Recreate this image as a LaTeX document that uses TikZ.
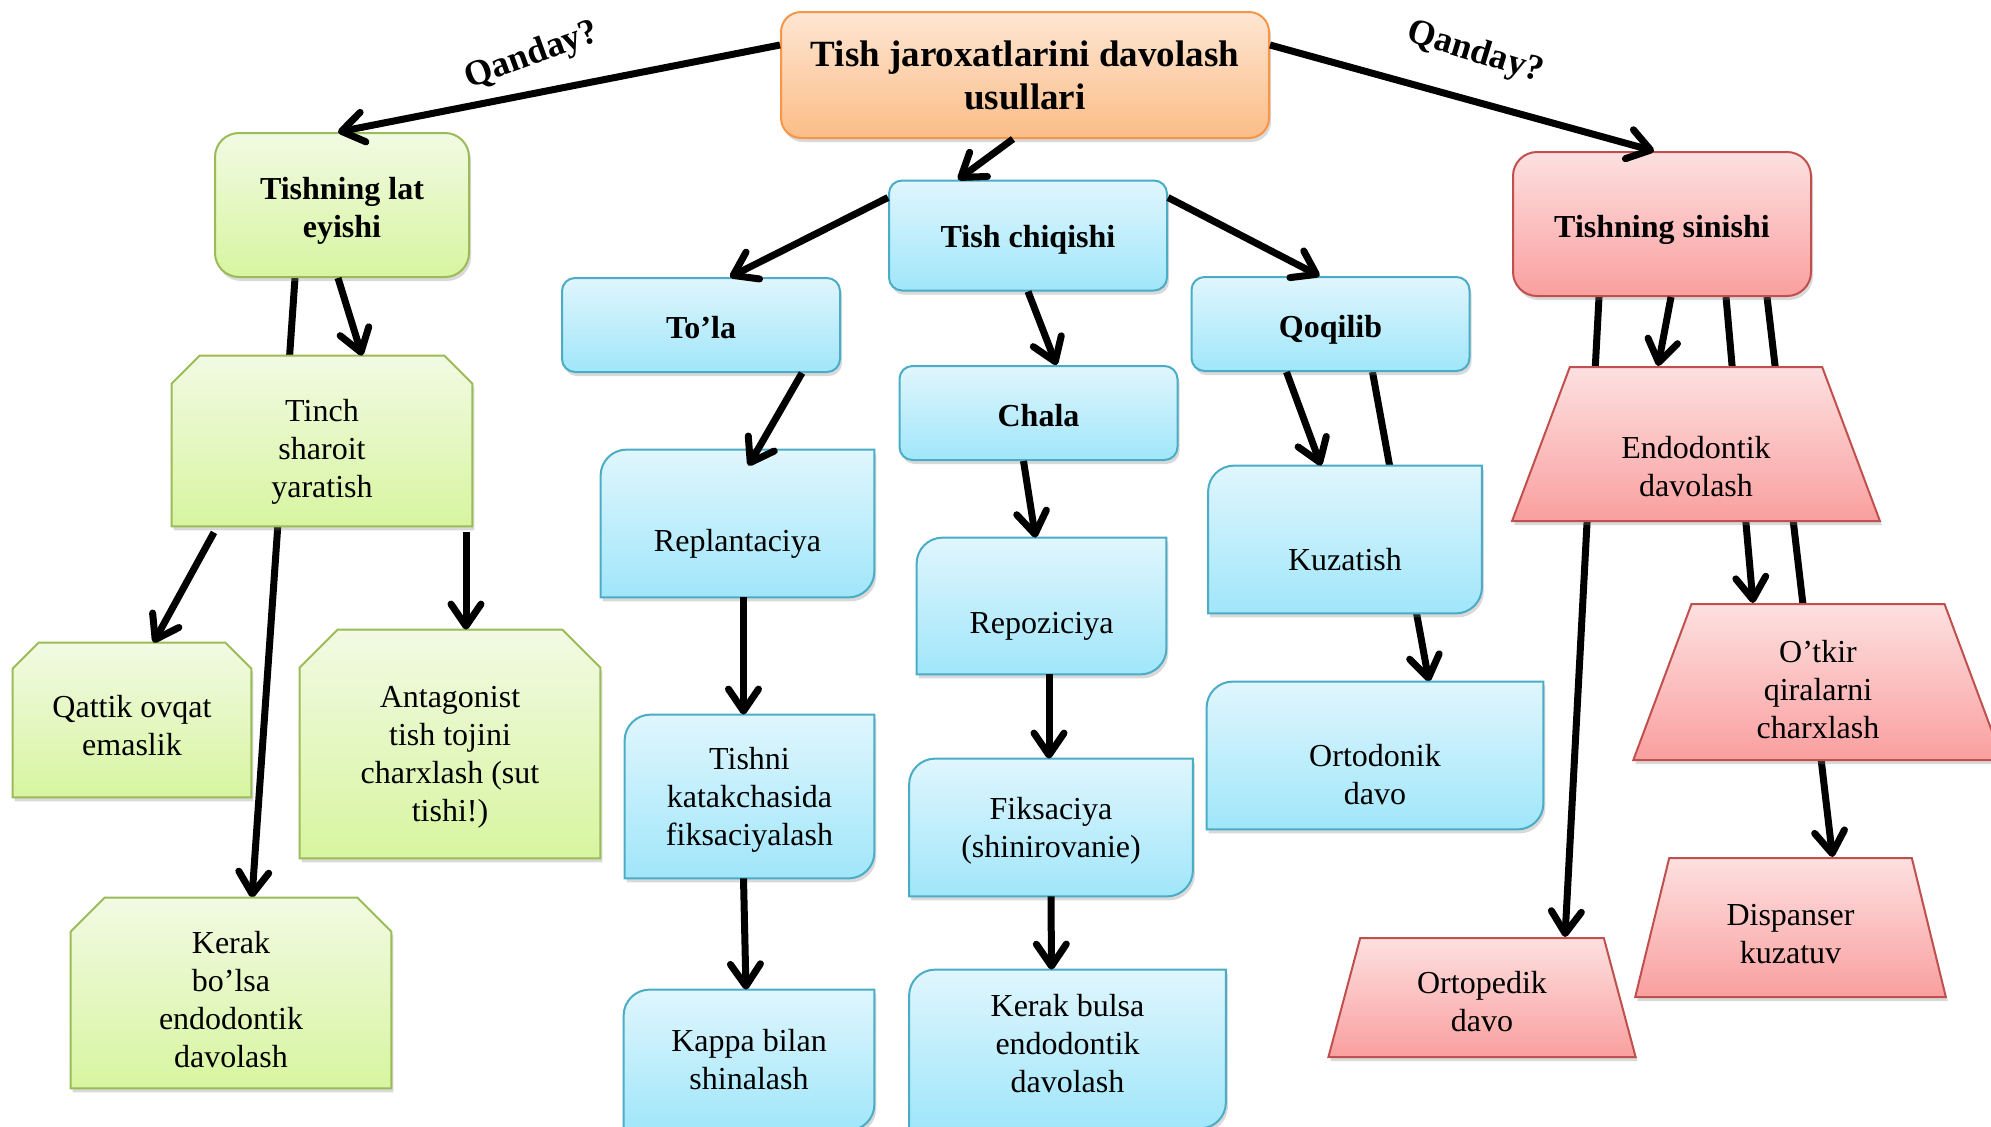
\documentclass[tikz,border=0pt]{standalone}
\usepackage{fontspec}
\setmainfont{Liberation Serif}
\usetikzlibrary{arrows.meta, shapes.geometric, shadows}

\definecolor{orTop}{HTML}{FEE6D3}
\definecolor{orBot}{HTML}{FBBD87}
\definecolor{orLine}{HTML}{F79646}
\definecolor{grTop}{HTML}{F2FAE3}
\definecolor{grBot}{HTML}{D7F5A0}
\definecolor{grLine}{HTML}{9BBB59}
\definecolor{blTop}{HTML}{E0F6FD}
\definecolor{blBot}{HTML}{A0E6FA}
\definecolor{blLine}{HTML}{4BACC6}
\definecolor{rdTop}{HTML}{FDE0E0}
\definecolor{rdBot}{HTML}{FA9F9F}
\definecolor{rdLine}{HTML}{C0504D}

\pgfdeclarelayer{back}
\pgfdeclarelayer{boxes}
\pgfsetlayers{back,boxes,main}

% pushes the text of a box down by the given amount
\newcommand*{\sink}[1][2.5pt]{\rule{0pt}{\dimexpr 10.8pt+#1*2\relax}}

% box with rounded top-left and bottom-right corners
\newcommand*{\cornerbox}[1]{%
  \path[bluefill] (#1.north east) -- ([yshift=13pt]#1.south east)
    arc[start angle=0, end angle=-90, radius=13pt] -- (#1.south west)
    -- ([yshift=-13pt]#1.north west)
    arc[start angle=180, end angle=90, radius=13pt] -- cycle;}

% box with both top corners cut off
\newcommand*{\snipbox}[2]{%
  \path[greenfill] (#1.south west) -- ([yshift=-#2]#1.north west)
    -- ([xshift=#2]#1.north west) -- ([xshift=-#2]#1.north east)
    -- ([yshift=-#2]#1.north east) -- (#1.south east) -- cycle;}

\tikzset{
  every node/.style={inner sep=0pt, align=center, font=\fontsize{16}{19}\selectfont},
  title/.style={font=\fontsize{16}{19}\selectfont\bfseries},
  shadowed/.style={drop shadow={shadow xshift=1pt, shadow yshift=-2pt, opacity=0.3}},
  orangebox/.style={rectangle, rounded corners=10pt, draw=orLine, line width=1pt,
    top color=orTop, bottom color=orBot, shadowed,
    font=\fontsize{18.5}{21.6}\selectfont\bfseries},
  greenbox/.style={rectangle, rounded corners=12pt, draw=grLine, line width=1pt,
    top color=grTop, bottom color=grBot, shadowed, title},
  greencut/.style={rectangle},
  greenfill/.style={draw=grLine, line width=1pt, top color=grTop, bottom color=grBot, shadowed},
  bluebox/.style={rectangle, rounded corners=6.5pt, draw=blLine, line width=1pt,
    top color=blTop, bottom color=blBot, shadowed, title},
  bluecut/.style={rectangle},
  bluefill/.style={draw=blLine, line width=1pt, top color=blTop, bottom color=blBot, shadowed},
  redbox/.style={rectangle, rounded corners=12pt, draw=rdLine, line width=1pt,
    top color=rdTop, bottom color=rdBot, shadowed, title},
  redtrap/.style={trapezium, trapezium stretches=true, trapezium left angle=76,
    trapezium right angle=76, draw=rdLine, line width=1pt,
    top color=rdTop, bottom color=rdBot, shadowed},
  question/.style={font=\fontsize{18}{21}\selectfont\bfseries},
  arr/.style={line width=3.5pt, -{Straight Barb[length=11pt, width=15pt, round]}},
}

\begin{document}
\begin{tikzpicture}[x=0.5pt, y=-0.5pt]
  \useasboundingbox (0,0) rectangle (1991,1126);

  % main question
  \node[orangebox, minimum width=244pt, minimum height=63pt] (top) at (1025,75)
    {\sink[1pt]Tish jaroxatlarini davolash\\usullari};
  \node[question, rotate=20] (q1) at (532,56) {Qanday?};
  \node[question, rotate=-17] (q2) at (1475,53) {Qanday?};

  % lat eyishi
  \node[greenbox, minimum width=127pt, minimum height=72pt] (lat) at (342,205)
    {\sink[3pt]Tishning lat\\eyishi};
  \node[greencut, minimum width=150pt, minimum height=85pt] (tinch) at (322,441)
    {\sink[5.5pt]Tinch\\sharoit\\yaratish};
  \node[greencut, minimum width=119pt, minimum height=77pt] (qattik) at (132,720)
    {\sink[3pt]Qattik ovqat\\emaslik};
  \node[greencut, minimum width=150pt, minimum height=114pt] (antag) at (450,744)
    {\sink[6.3pt]Antagonist\\tish tojini\\charxlash (sut\\tishi!)};
  \node[greencut, minimum width=160pt, minimum height=95pt] (kerak) at (231,993)
    {\sink[3.5pt]Kerak\\bo’lsa\\endodontik\\davolash};

  % chiqishi
  \node[bluebox, minimum width=139pt, minimum height=55pt] (chiq) at (1028,235.5)
    {\sink[2.5pt]Tish chiqishi};
  \node[bluebox, minimum width=139pt, minimum height=47pt] (tola) at (701,325)
    {\sink[1.3pt]To’la};
  \node[bluebox, minimum width=139pt, minimum height=47pt] (chala) at (1038.5,413)
    {\sink[1.3pt]Chala};
  \node[bluebox, minimum width=139pt, minimum height=47pt] (qoq) at (1330.5,324)
    {\sink[3pt]Qoqilib};

  \node[bluecut, minimum width=136.5pt, minimum height=73.5pt,
    label={[yshift=-10pt]center:Replantaciya}] (replant) at (737.5,523.5) {};
  \node[bluecut, minimum width=124.5pt, minimum height=81.5pt] (tishni) at (749.5,796.5)
    {\sink[1.7pt]Tishni\\katakchasida\\fiksaciyalash};
  \node[bluecut, minimum width=125pt, minimum height=70pt] (kappa) at (749,1060)
    {Kappa bilan\\shinalash};
  \node[bluecut, minimum width=124.5pt, minimum height=68pt,
    label={[yshift=-10pt]center:Repoziciya}] (repoz) at (1041.5,606) {};
  \node[bluecut, minimum width=141.5pt, minimum height=68.5pt] (fiks) at (1051,827.5)
    {\sink[2pt]Fiksaciya\\(shinirovanie)};
  \node[bluecut, minimum width=158pt, minimum height=79pt,
    label={[yshift=2.5pt]center:Kerak bulsa\\endodontik\\davolash}] (kerakb) at (1067.5,1049) {};
  \node[bluecut, minimum width=136.5pt, minimum height=73.5pt,
    label={[yshift=-10pt]center:Kuzatish}] (kuzat) at (1345,539.5) {};
  \node[bluecut, minimum width=168pt, minimum height=73.5pt,
    label={[yshift=-9.5pt]center:Ortodonik\\davo}] (ortodonik) at (1375,755.5) {};

  \begin{pgfonlayer}{boxes}
    \foreach \n in {replant, tishni, kappa, repoz, fiks, kerakb, kuzat, ortodonik}
      {\cornerbox{\n}}
    \snipbox{tinch}{14pt}
    \snipbox{qattik}{13pt}
    \snipbox{antag}{19pt}
    \snipbox{kerak}{17pt}
  \end{pgfonlayer}

  % sinishi
  \node[redbox, minimum width=149pt, minimum height=72pt] (sin) at (1662,224)
    {\sink[3pt]Tishning sinishi};
  \node[redtrap, minimum width=184pt, minimum height=77pt,
    label={[yshift=-11.5pt]center:Endodontik\\davolash}] (endo) at (1696,444) {\phantom{x}};
  \node[redtrap, minimum width=186pt, minimum height=78pt] (otkir) at (1818,682)
    {\sink[3.8pt]O’tkir\\qiralarni\\charxlash};
  \node[redtrap, minimum width=155.5pt, minimum height=69.5pt] (disp) at (1790.5,927.5)
    {\sink[3pt]Dispanser\\kuzatuv};
  \node[redtrap, minimum width=154pt, minimum height=59.5pt] (ortoped) at (1482,997.5)
    {\sink[2pt]Ortopedik\\davo};

  % arrows passing behind the boxes
  \begin{pgfonlayer}{back}
    \draw[arr] ([xshift=-23.5pt]lat.south) -- ([xshift=10.5pt]kerak.north);
    \draw[arr] ([xshift=21pt]qoq.south) -- ([xshift=27pt]ortodonik.north);
    \draw[arr] ([xshift=-31.5pt]sin.south) -- ([xshift=41.5pt]ortoped.north);
    \draw[arr] ([xshift=32pt]sin.south) -- ([xshift=-32.5pt]otkir.north);
    \draw[arr] ([xshift=52.5pt]sin.south) -- ([xshift=21pt]disp.north);
  \end{pgfonlayer}

  \draw[arr] ([yshift=15pt]top.west) -- ([xshift=-2pt]lat.north);
  \draw[arr] ([yshift=15pt]top.east) -- ([xshift=-4pt]sin.north);
  \draw[arr] ([xshift=-6pt]top.south) -- ([xshift=-35pt]chiq.north);

  \draw[arr] ([xshift=-2pt]lat.south) -- ([xshift=20pt]tinch.north);
  \draw[arr] ([xshift=-54pt,yshift=-3pt]tinch.south) -- ([xshift=10.75pt]qattik.north);
  \draw[arr] ([xshift=72pt,yshift=-3pt]tinch.south) -- ([xshift=8pt]antag.north);

  \draw[arr] ([yshift=19pt]chiq.west) -- ([xshift=14.5pt]tola.north);
  \draw[arr] ([yshift=19pt]chiq.east) -- ([xshift=-5.5pt]qoq.north);
  \draw[arr] (chiq.south) -- ([xshift=9pt]chala.north);
  \draw[arr] ([xshift=50.5pt]tola.south) -- ([xshift=5.5pt,yshift=-8pt]replant.north);
  \draw[arr] ([xshift=3pt]replant.south) -- ([xshift=-3pt]tishni.north);
  \draw[arr] ([xshift=-3pt]tishni.south) -- ([xshift=-1.5pt]kappa.north);
  \draw[arr] ([xshift=-7.5pt]chala.south) -- ([xshift=-3pt]repoz.north);
  \draw[arr] ([xshift=3.75pt]repoz.south) -- ([xshift=-1pt]fiks.north);
  \draw[arr] (fiks.south) -- ([xshift=-8pt]kerakb.north);
  \draw[arr] ([xshift=-22pt]qoq.south) -- ([xshift=-12pt]kuzat.north);

  \draw[arr] ([xshift=4.5pt]sin.south) -- ([xshift=-19pt]endo.north);
\end{tikzpicture}
\end{document}
